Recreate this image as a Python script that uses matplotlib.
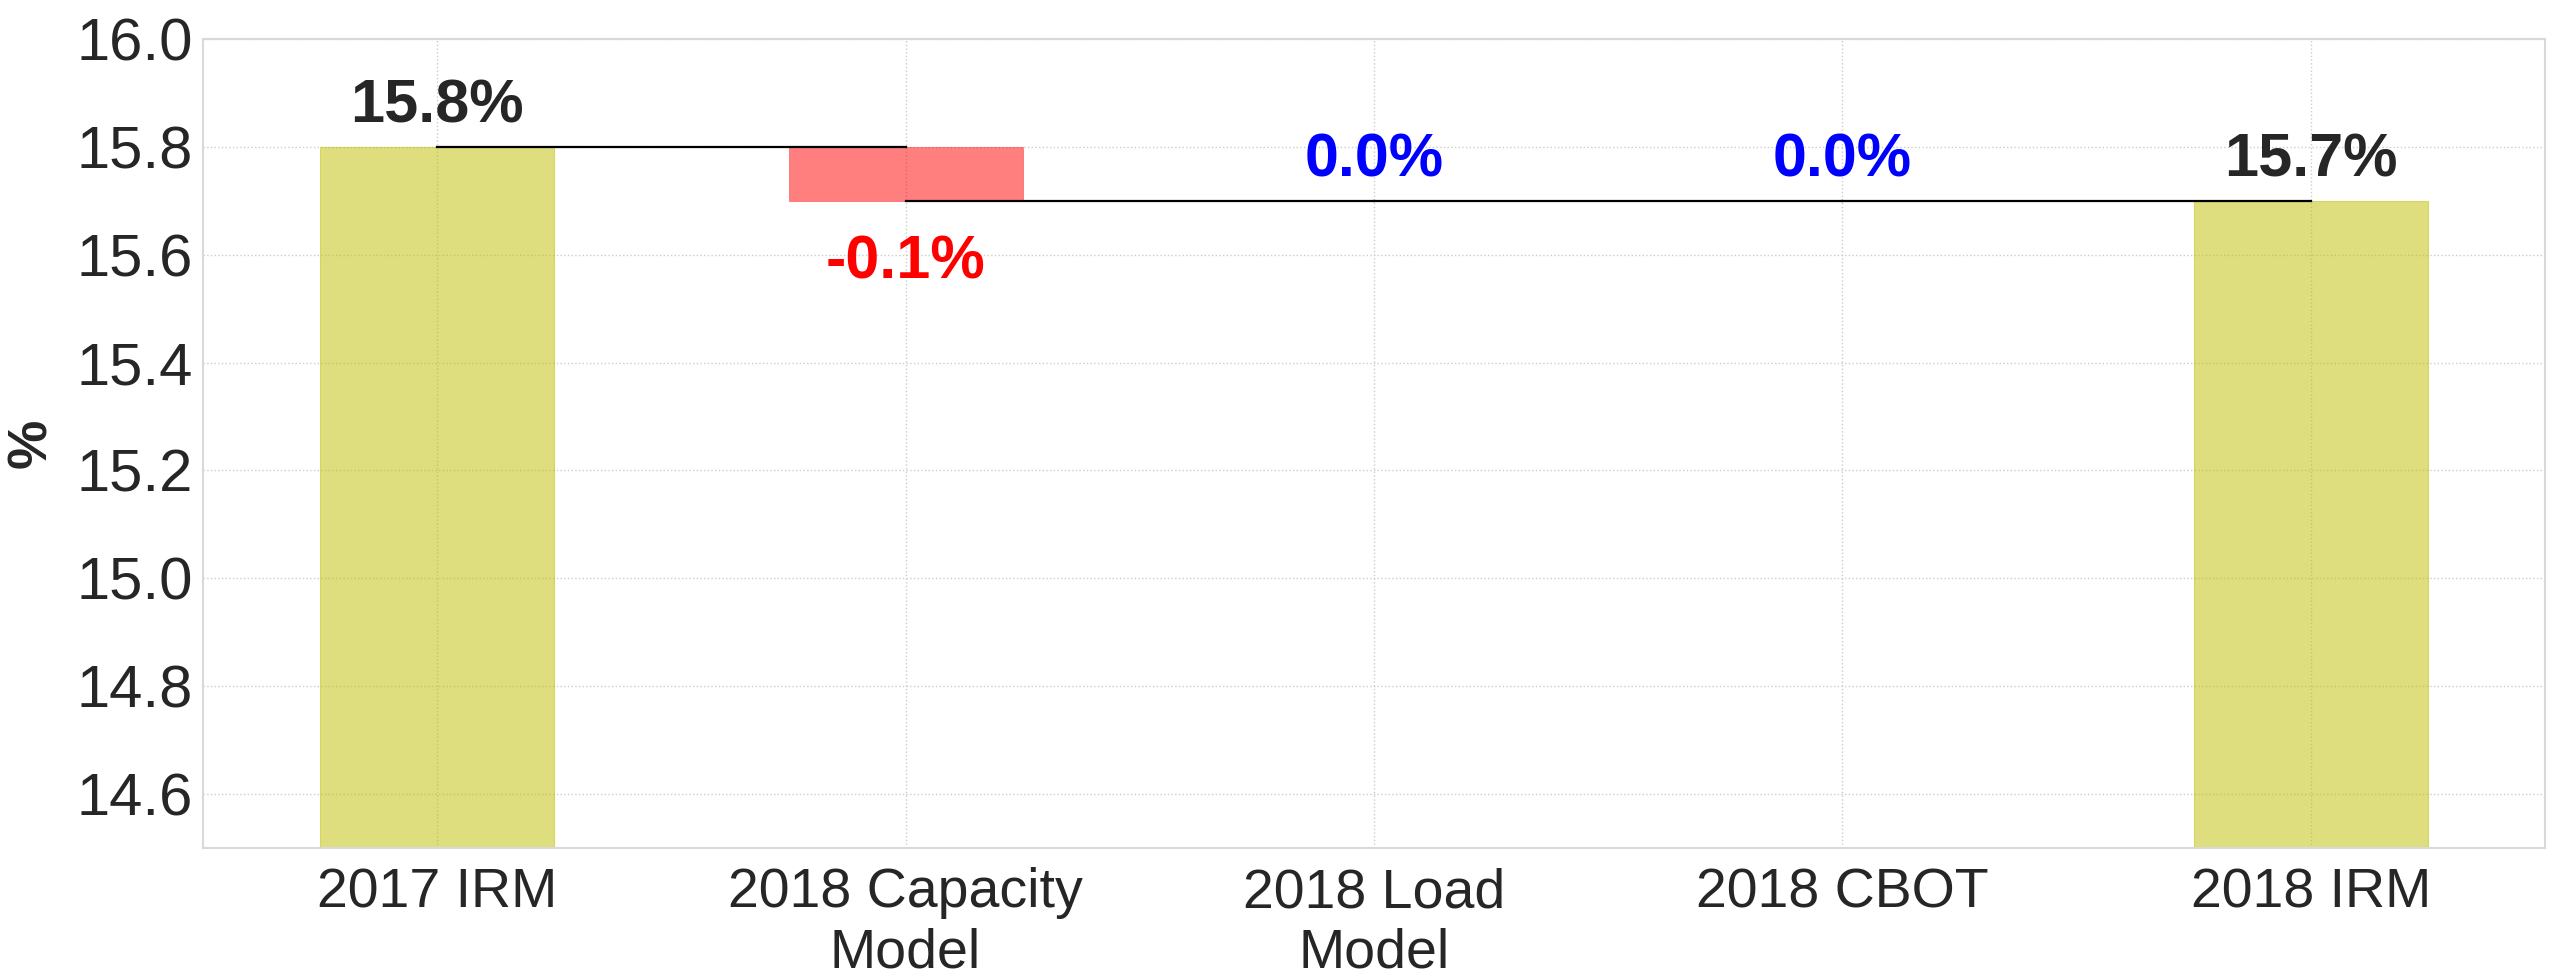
import matplotlib
matplotlib.use("Agg")
import matplotlib.pyplot as plt
import numpy as np

# waterfall steps
steps = ["2017 IRM", "2018 Capacity\nModel", "2018 Load\nModel", "2018 CBOT", "2018 IRM"]
start_value = 15.8
changes = [-0.1, 0.0, 0.0]
end_value = 15.7
labels = ["15.8%", "-0.1%", "0.0%", "0.0%", "15.7%"]

plt.rcParams['font.family'] = ['Liberation Sans', 'DejaVu Sans']

fig = plt.figure(figsize=(25.52, 9.76), dpi=100)
ax = fig.add_axes([203 / 2552, 1 - 848 / 976, (2545 - 203) / 2552, (848 - 39) / 976])

x = np.arange(len(steps))
width = 0.5

# total bars
ax.bar(x[0], start_value, width, color='y', alpha=0.5, edgecolor='y', linewidth=0.8, zorder=2)
ax.bar(x[-1], end_value, width, color='y', alpha=0.5, edgecolor='y', linewidth=0.8, zorder=2)

# change bars + connectors
level = start_value
for i, d in enumerate(changes):
    xi = x[i + 1]
    bottom = level + d if d < 0 else level
    col = 'r' if d < 0 else 'b'
    if d != 0:
        ax.bar(xi, abs(d), width, bottom=bottom, color=col, alpha=0.5, edgecolor=col,
               linewidth=0.5, zorder=2)
    ax.plot([xi - 1, xi], [level, level], color='black', lw=1.6, zorder=3)
    level = level + d
ax.plot([x[-2], x[-1]], [level, level], color='black', lw=1.6, zorder=3)

# value labels
ax.text(x[0], start_value + 0.073, labels[0], ha='center', va='center',
        fontsize=44, fontweight='bold', color='#262626')
ax.text(x[-1], end_value + 0.073, labels[-1], ha='center', va='center',
        fontsize=44, fontweight='bold', color='#262626')
level = start_value
for i, d in enumerate(changes):
    if d < 0:
        ax.text(x[i + 1], level + d - 0.116, labels[i + 1], ha='center', va='center',
                fontsize=44, fontweight='bold', color='red')
    else:
        ax.text(x[i + 1], level + d + 0.073, labels[i + 1], ha='center', va='center',
                fontsize=44, fontweight='bold', color='blue')
    level += d

ax.set_xlim(-0.5, 4.5)
ax.set_ylim(14.5, 16.0)
ax.set_yticks(np.arange(14.6, 16.01, 0.2))
ax.set_yticklabels([f"{v:.1f}" for v in np.arange(14.6, 16.01, 0.2)])
ax.set_xticks(x)
ax.set_xticklabels(steps)
ax.tick_params(axis='x', labelsize=40, colors='#262626', length=0, pad=14)
ax.tick_params(axis='y', labelsize=43, colors='#262626', length=0, pad=7)
ax.set_ylabel('%', fontsize=40, fontweight='bold', color='#262626')
ax.yaxis.set_label_coords(-0.062, 0.5)

ax.grid(True, linestyle=':', color='#cccccc', lw=1.0, zorder=0)
ax.set_axisbelow(True)
for s in ax.spines.values():
    s.set_color('#d9d9d9')
    s.set_linewidth(1.5)

fig.savefig('out.png', dpi=100, facecolor='white')
